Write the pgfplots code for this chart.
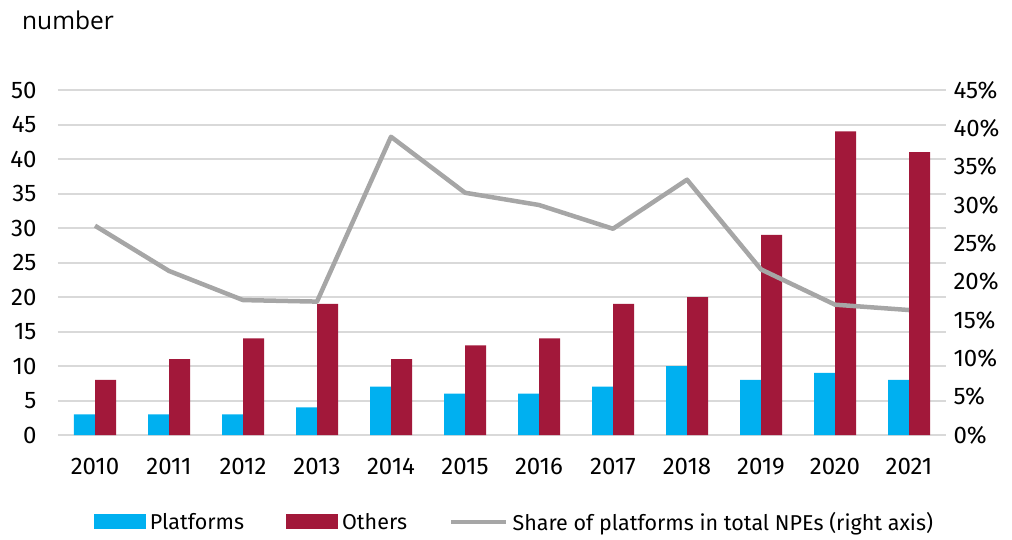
\documentclass[border=0pt]{standalone}
\usepackage{fontspec}
\setmainfont{Fira Sans}
\newfontfamily\osans{Open Sans}
\usepackage{pgfplots}
\pgfplotsset{compat=1.18}
\definecolor{cplat}{HTML}{00B0F0}
\definecolor{coth}{HTML}{A2183A}
\definecolor{cline}{HTML}{A6A6A6}
\definecolor{cgrid}{HTML}{D9D9D9}
\begin{document}
\begin{tikzpicture}[x=1pt,y=1pt]
\useasboundingbox (-58,-104) rectangle (954,435);
\begin{axis}[
  at={(0,0)}, anchor=south west,
  scale only axis, width=888pt, height=345pt,
  xmin=-0.5, xmax=11.5, ymin=0, ymax=50,
  xtick={0,...,11},
  xticklabels={2010,2011,2012,2013,2014,2015,2016,2017,2018,2019,2020,2021},
  ytick={0,5,...,50},
  axis line style={draw=none}, tick style={draw=none},
  ymajorgrids, grid style={cgrid, line width=2pt},
  ybar=0pt, bar width=21pt,
  /pgf/number format/assume math mode=true,
  tick label style={font=\fontsize{24}{28}\selectfont},
  yticklabel style={anchor=east, xshift=-18pt},
  xticklabel style={anchor=north, yshift=-15pt},
  legend columns=-1,
  legend style={at={(0.514,-0.252)}, anchor=center, draw=none, fill=none,
    font=\fontsize{21.5}{25}\selectfont,
    /tikz/every even column/.append style={column sep=40pt},
    /tikz/every odd column/.append style={column sep=2pt}},
]
\addplot[fill=cplat, draw=none, area legend,
  legend image code/.code={\fill[cplat] (0pt,-7.5pt) rectangle (52pt,7.5pt);}]
  coordinates {(0,3)(1,3)(2,3)(3,4)(4,7)(5,6)(6,6)(7,7)(8,10)(9,8)(10,9)(11,8)};
\addlegendentry{Platforms}
\addplot[fill=coth, draw=none, area legend,
  legend image code/.code={\fill[coth] (0pt,-7.5pt) rectangle (52pt,7.5pt);}]
  coordinates {(0,8)(1,11)(2,14)(3,19)(4,11)(5,13)(6,14)(7,19)(8,20)(9,29)(10,44)(11,41)};
\addlegendentry{Others}
\addlegendimage{legend image code/.code={\draw[cline, line width=4.5pt] (0pt,0pt) -- (55pt,0pt);}}
\addlegendentry{Share of platforms in total NPEs (right axis)}
\end{axis}
\begin{axis}[
  at={(0,0)}, anchor=south west,
  scale only axis, width=888pt, height=345pt,
  xmin=-0.5, xmax=11.5, ymin=0, ymax=45,
  ytick={0,5,...,45},
  hide x axis,
  axis line style={draw=none}, tick style={draw=none},
  yticklabel pos=right,
  yticklabel={\pgfmathprintnumber{\tick}\%},
  /pgf/number format/assume math mode=true,
  tick label style={font=\fontsize{24}{28}\selectfont},
  yticklabel style={anchor=west, xshift=4pt},
]
\addplot[cline, line width=4.5pt, line join=round, mark=none]
  coordinates {(0,27.3)(1,21.4)(2,17.6)(3,17.4)(4,38.9)(5,31.6)(6,30.0)(7,26.9)(8,33.3)(9,21.6)(10,17.0)(11,16.3)};
\end{axis}
\node[anchor=base west, inner sep=0pt, font=\osans\fontsize{24.5}{28}\selectfont] at (-36,405) {number};
\end{tikzpicture}
\end{document}
